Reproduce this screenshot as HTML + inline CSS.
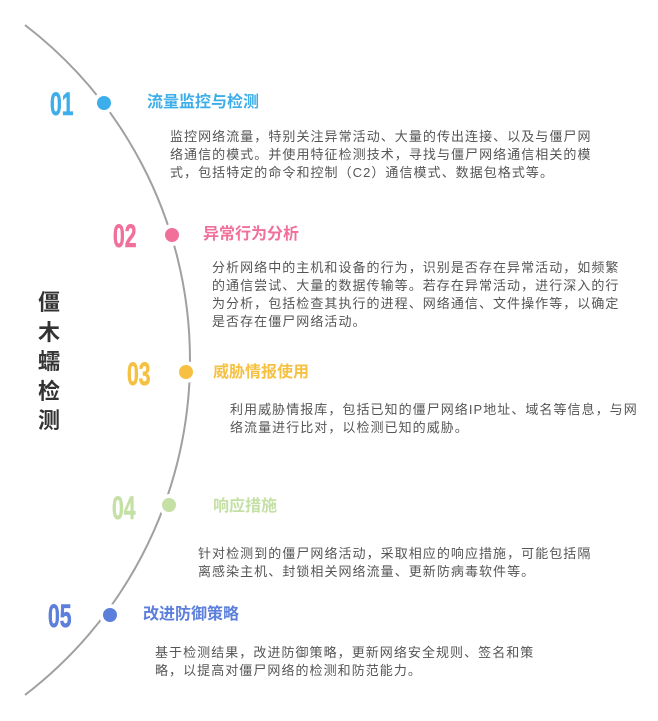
<!DOCTYPE html>
<html><head><meta charset="utf-8"><style>
body{margin:0;width:658px;height:721px;background:#fff;position:relative;overflow:hidden;font-family:"Liberation Sans","Noto Sans CJK SC",sans-serif}
.n{position:absolute;font-family:"Liberation Sans","DejaVu Sans",sans-serif;font-weight:bold;font-size:32px;line-height:30px;transform:scaleX(0.66);transform-origin:left center;-webkit-text-stroke:0.6px currentColor}
.t{position:absolute;font-weight:bold;font-size:16px;line-height:20px;white-space:nowrap}
.p{position:absolute;font-size:13px;letter-spacing:1.05px;line-height:18px;color:#555;white-space:nowrap}
.v{position:absolute;left:37px;top:288px;width:24px;font-size:22px;font-weight:bold;color:#333;line-height:29.5px;text-align:center}
</style></head><body>
<svg width="658" height="721" style="position:absolute;left:0;top:0">
<path d="M25 25 A422.6 422.6 0 0 1 25 695" fill="none" stroke="#a0a0a0" stroke-width="2"/>
<g stroke="#fff" stroke-width="4">
<circle cx="104" cy="103" r="9" fill="#3daee9"/>
<circle cx="172" cy="235" r="9" fill="#f0709a"/>
<circle cx="186" cy="372" r="9" fill="#f6c143"/>
<circle cx="169" cy="505" r="9" fill="#c5e0a5"/>
<circle cx="110" cy="615" r="9" fill="#5b7fdb"/>
</g></svg>
<div class="v">僵<br>木<br>蠕<br>检<br>测</div>

<div class="n" style="left:50px;top:89px;color:#3daee9">01</div>
<div class="t" style="left:147px;top:93px;color:#3daee9">流量监控与检测</div>
<div class="p" style="left:170px;top:128px">监控网络流量，特别关注异常活动、大量的传出连接、以及与僵尸网<br>络通信的模式。并使用特征检测技术，寻找与僵尸网络通信相关的模<br>式，包括特定的命令和控制（C2）通信模式、数据包格式等。</div>

<div class="n" style="left:113px;top:221px;color:#f0709a">02</div>
<div class="t" style="left:203px;top:225px;color:#f0709a">异常行为分析</div>
<div class="p" style="left:212px;top:259px">分析网络中的主机和设备的行为，识别是否存在异常活动，如频繁<br>的通信尝试、大量的数据传输等。若存在异常活动，进行深入的行<br>为分析，包括检查其执行的进程、网络通信、文件操作等，以确定<br>是否存在僵尸网络活动。</div>

<div class="n" style="left:127px;top:359px;color:#f6c143">03</div>
<div class="t" style="left:213px;top:363px;color:#f6c143">威胁情报使用</div>
<div class="p" style="left:230px;top:401px">利用威胁情报库，包括已知的僵尸网络IP地址、域名等信息，与网<br>络流量进行比对，以检测已知的威胁。</div>

<div class="n" style="left:112px;top:493px;color:#c5e0a5">04</div>
<div class="t" style="left:213px;top:497px;color:#c5e0a5">响应措施</div>
<div class="p" style="left:198px;top:545px">针对检测到的僵尸网络活动，采取相应的响应措施，可能包括隔<br>离感染主机、封锁相关网络流量、更新防病毒软件等。</div>

<div class="n" style="left:48px;top:601px;color:#5b7fdb">05</div>
<div class="t" style="left:143px;top:605px;color:#5b7fdb">改进防御策略</div>
<div class="p" style="left:155px;top:644px">基于检测结果，改进防御策略，更新网络安全规则、签名和策<br>略，以提高对僵尸网络的检测和防范能力。</div>
</body></html>
